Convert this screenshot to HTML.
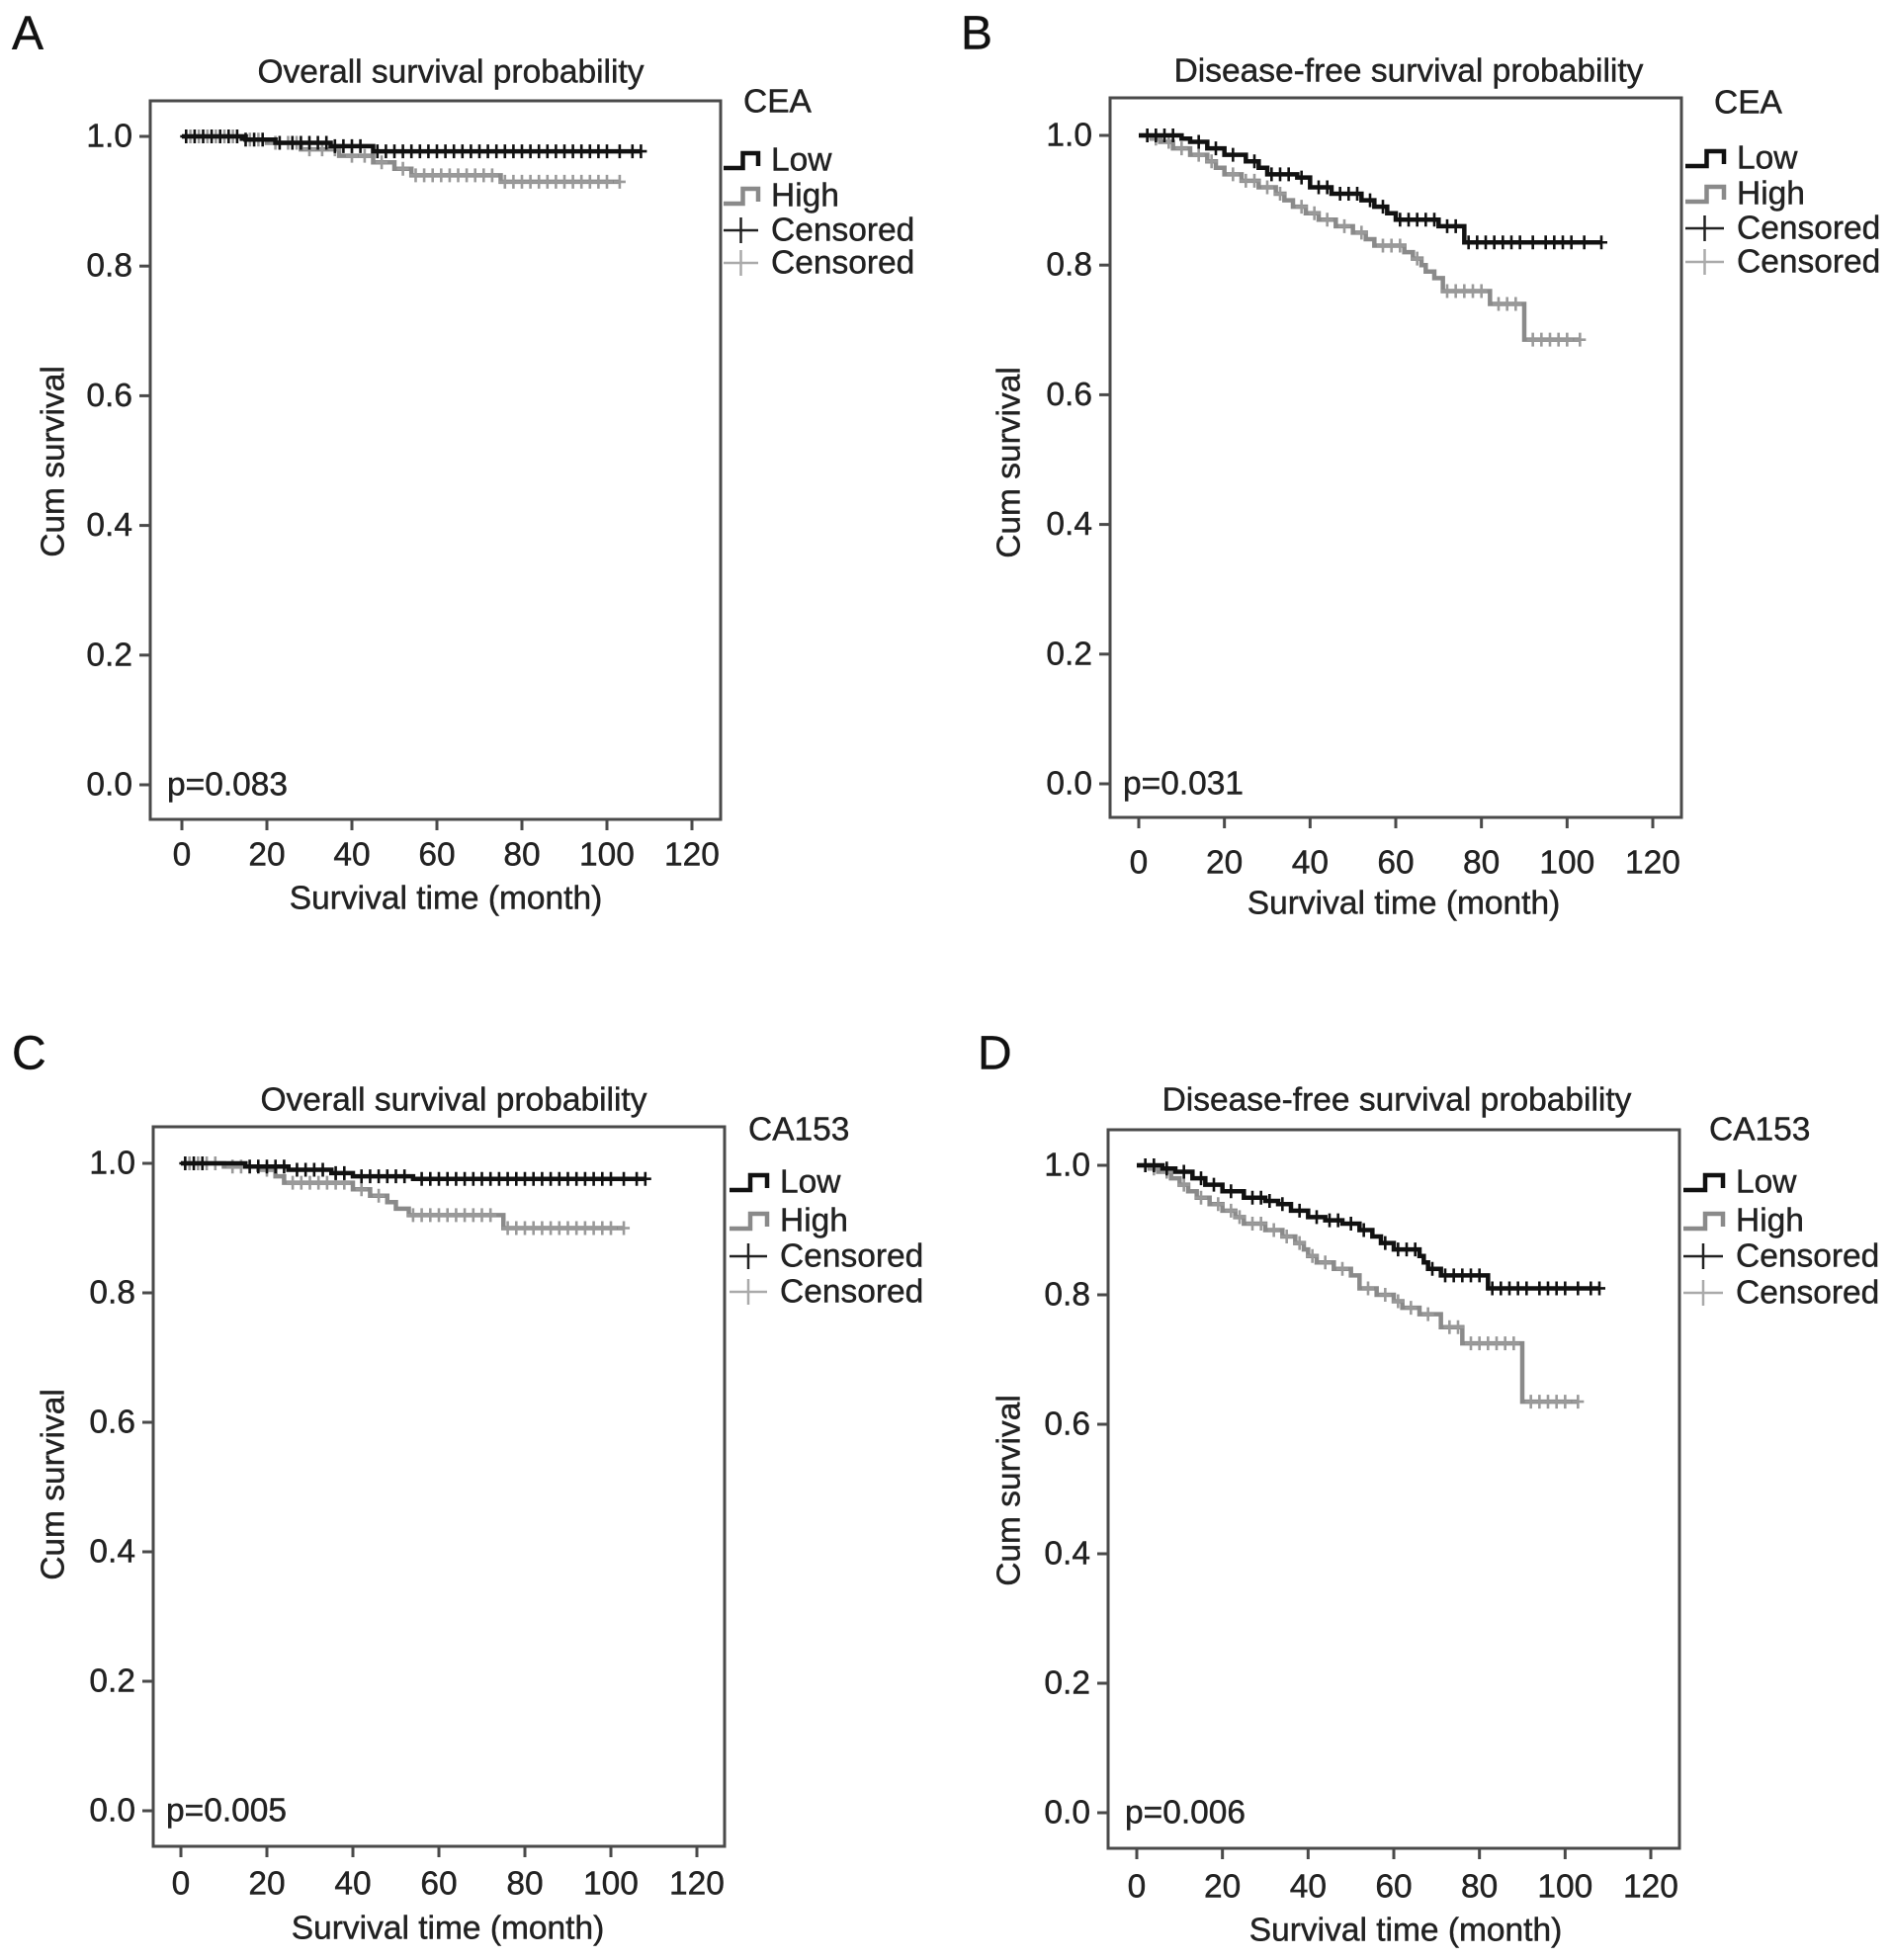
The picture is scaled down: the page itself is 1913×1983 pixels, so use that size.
<!DOCTYPE html>
<html><head><meta charset="utf-8"><style>
html,body{margin:0;padding:0;background:#fff}
svg{display:block;font-family:"Liberation Sans",Arial,sans-serif}
svg text{stroke:#222;stroke-width:0.45px}
</style></head><body>
<svg id="fig" width="1913" height="1983" viewBox="0 0 1913 1983" xmlns="http://www.w3.org/2000/svg"></svg>
<script>
// ---- data (months, survival) ----
const xTicks = [0,20,40,60,80,100,120];
const yTicks = [0.0,0.2,0.4,0.6,0.8,1.0];
const yTickLabels = ["0.0","0.2","0.4","0.6","0.8","1.0"];
const xTickLabels = ["0","20","40","60","80","100","120"];

const aLowT = [0,15,22,35,45];
const aLowS = [1,0.995,0.99,0.985,0.977];
const aLowEnd = 108;
const aLowCens = [1,3,5,7,9,11,13,15,17,19,23,26,28,30,32,34,36,38,40,42,46,48,50,52,54,56,58,60,62,64,66,68,70,72,74,76,78,80,82,84,86,88,90,92,94,96,98,100,103,106,108];
const aHighT = [0,15,20,28,37,45,50,54,75];
const aHighS = [1,0.995,0.99,0.98,0.97,0.96,0.95,0.94,0.93];
const aHighEnd = 103;
const aHighCens = [2,4,6,8,10,12,16,18,22,25,27,30,33,36,40,43,47,52,55,57,59,61,63,65,67,69,71,73,76,78,80,82,84,86,88,90,92,94,96,98,100,103];

const bLowT = [0,10,12,16,20,25,28,30,37,40,45,52,55,58,60,70,76];
const bLowS = [1,0.995,0.99,0.98,0.97,0.96,0.95,0.94,0.935,0.92,0.91,0.90,0.89,0.88,0.87,0.86,0.835];
const bLowEnd = 108;
const bLowCens = [2,4,6,8,14,18,22,27,31,33,35,38,42,44,47,49,51,54,57,61,63,65,67,69,72,74,77,79,81,83,85,87,89,92,95,97,99,101,104,108];
const bHighT = [0,3,5,8,12,16,18,20,24,28,32,34,36,39,42,46,50,53,55,62,64,66,67,69,71,82,90];
const bHighS = [1,0.995,0.99,0.98,0.97,0.96,0.95,0.94,0.93,0.92,0.91,0.90,0.89,0.88,0.87,0.86,0.85,0.84,0.83,0.82,0.81,0.80,0.79,0.78,0.76,0.74,0.685];
const bHighEnd = 103;
const bHighCens = [2,4,7,10,14,17,22,25,27,30,33,38,41,44,48,52,57,59,61,65,72,74,76,78,80,84,86,88,92,94,96,98,100,103];

const cLowT = [0,15,25,35,40,54];
const cLowS = [1,0.995,0.99,0.985,0.98,0.976];
const cLowEnd = 108;
const cLowCens = [1,3,5,16,18,20,22,24,27,29,31,33,36,38,42,44,46,48,50,52,56,58,60,62,64,66,68,70,72,74,76,78,80,82,84,86,88,90,92,94,96,98,100,103,106,108];
const cHighT = [0,10,18,22,24,40,44,48,50,53,75];
const cHighS = [1,0.995,0.99,0.98,0.97,0.96,0.95,0.94,0.93,0.92,0.90];
const cHighEnd = 103;
const cHighCens = [2,4,6,8,12,14,20,26,28,30,32,34,36,38,42,46,54,56,58,60,62,64,66,68,70,72,76,78,80,82,84,86,88,90,92,94,96,98,100,103];

const dLowT = [0,6,9,13,16,20,25,30,33,36,40,44,48,52,55,57,60,66,67,68,71,82];
const dLowS = [1,0.995,0.99,0.98,0.97,0.96,0.95,0.945,0.94,0.93,0.92,0.915,0.91,0.90,0.89,0.88,0.87,0.86,0.85,0.84,0.83,0.81];
const dLowEnd = 108;
const dLowCens = [2,4,7,11,15,18,22,27,29,31,34,38,42,45,47,50,53,58,61,63,65,69,72,74,76,78,80,83,85,87,89,91,94,96,98,100,103,106,108];
const dHighT = [0,3,5,8,10,12,14,17,20,23,25,30,34,37,39,40,42,46,50,52,56,60,62,66,71,76,90];
const dHighS = [1,0.995,0.99,0.98,0.97,0.96,0.95,0.94,0.93,0.92,0.91,0.90,0.89,0.88,0.87,0.86,0.85,0.84,0.83,0.81,0.80,0.79,0.78,0.77,0.75,0.725,0.635];
const dHighEnd = 103;
const dHighCens = [2,4,7,11,15,19,22,24,27,29,32,35,38,41,44,48,54,58,61,64,68,73,75,78,80,82,84,86,88,92,94,96,98,100,103];

// ---- layout ----
const panels = [
 {id:'a',letter:'A',lx:12,ly:34,title:'Overall survival probability',group:'CEA',p:'p=0.083',
  box:[152,102,729,829],y1:138,y0:794,x0:184,x120:700,titleX:456,titleY:73,gX:752,gY:103,
  legSym:732,legText:780,rows:[162,198,233,266],yTitleX:54,yTitleY:467,xLabY:865,xTitleY:909,xTitleX:451,pX:169,
  low:[aLowT,aLowS,aLowEnd,aLowCens],high:[aHighT,aHighS,aHighEnd,aHighCens]},
 {id:'b',letter:'B',lx:972,ly:34,title:'Disease-free survival probability',group:'CEA',p:'p=0.031',
  box:[1123,99,1701,827],y1:137,y0:793,x0:1152,x120:1672,titleX:1425,titleY:72,gX:1734,gY:104,
  legSym:1705,legText:1757,rows:[160,196,231,265],yTitleX:1021,yTitleY:468,xLabY:873,xTitleY:914,xTitleX:1420,pX:1136,
  low:[bLowT,bLowS,bLowEnd,bLowCens],high:[bHighT,bHighS,bHighEnd,bHighCens]},
 {id:'c',letter:'C',lx:12,ly:1066,title:'Overall survival probability',group:'CA153',p:'p=0.005',
  box:[155,1140,733,1868],y1:1177,y0:1832,x0:183,x120:705,titleX:459,titleY:1113,gX:757,gY:1143,
  legSym:738,legText:789,rows:[1196,1235,1271,1307],yTitleX:54,yTitleY:1502,xLabY:1906,xTitleY:1951,xTitleX:453,pX:168,
  low:[cLowT,cLowS,cLowEnd,cLowCens],high:[cHighT,cHighS,cHighEnd,cHighCens]},
 {id:'d',letter:'D',lx:989,ly:1066,title:'Disease-free survival probability',group:'CA153',p:'p=0.006',
  box:[1121,1143,1699,1870],y1:1179,y0:1834,x0:1150,x120:1670,titleX:1413,titleY:1113,gX:1729,gY:1143,
  legSym:1703,legText:1756,rows:[1196,1235,1271,1308],yTitleX:1021,yTitleY:1508,xLabY:1909,xTitleY:1953,xTitleX:1422,pX:1138,
  low:[dLowT,dLowS,dLowEnd,dLowCens],high:[dHighT,dHighS,dHighEnd,dHighCens]}
];

const FS=33.5;
const NS='http://www.w3.org/2000/svg';
const svg=document.getElementById('fig');
function mk(tag,attrs,parent,text){
  const e=document.createElementNS(NS,tag);
  for(const k in attrs) e.setAttribute(k,attrs[k]);
  if(text!==undefined) e.textContent=text;
  parent.appendChild(e); return e;
}
function survAt(T,S,t){let v=S[0];for(let i=0;i<T.length;i++){if(T[i]<=t)v=S[i];}return v;}

panels.forEach(P=>{
  const g=mk('g',{},svg);
  
  
  const X=t=>P.x0+(P.x120-P.x0)*t/120;
  const Y=s=>P.y0+(P.y1-P.y0)*s;
  const [bl,bt,br,bb]=P.box;

  const lt=mk('text',{x:P.lx,y:P.ly,'font-size':48,'dominant-baseline':'central',fill:'#111'},g,P.letter);
  
  
  const tt=mk('text',{x:P.titleX,y:P.titleY,'font-size':FS,'text-anchor':'middle','dominant-baseline':'central',fill:'#222'},g,P.title);
  
  
  const box=mk('rect',{x:bl,y:bt,width:br-bl,height:bb-bt,fill:'none',stroke:'#4a4a4a','stroke-width':3},g);
  
  

  yTicks.forEach((v,i)=>{
    const y=Y(v);
    const tk=mk('line',{x1:bl-11,x2:bl,y1:y,y2:y,stroke:'#4a4a4a','stroke-width':3},g);
    
    
    const tl=mk('text',{x:bl-18,y:y,'font-size':FS,'text-anchor':'end','dominant-baseline':'central',fill:'#222'},g,yTickLabels[i]);
    
    
  });
  xTicks.forEach((v,i)=>{
    const x=X(v);
    const tk=mk('line',{x1:x,x2:x,y1:bb,y2:bb+11,stroke:'#4a4a4a','stroke-width':3},g);
    
    
    const tl=mk('text',{x:x,y:P.xLabY,'font-size':FS,'text-anchor':'middle','dominant-baseline':'central',fill:'#222'},g,xTickLabels[i]);
    
    
  });
  const xt=mk('text',{x:P.xTitleX,y:P.xTitleY,'font-size':FS,'text-anchor':'middle','dominant-baseline':'central',fill:'#222'},g,'Survival time (month)');
  
  
  const yt=mk('text',{x:P.yTitleX,y:P.yTitleY,'font-size':FS,'text-anchor':'middle','dominant-baseline':'central',fill:'#222',transform:`rotate(-90 ${P.yTitleX} ${P.yTitleY})`},g,'Cum survival');
  
  
  const pv=mk('text',{x:P.pX,y:P.y0,'font-size':FS,'dominant-baseline':'central',fill:'#222'},g,P.p);
  
  

  [['high',P.high,'#8a8a8a','#9a9a9a'],['low',P.low,'#111','#111']].forEach(([nm,ser,col,ccol])=>{
    const [T,S,end,C]=ser;
    let d=`M${X(T[0])},${Y(S[0])}`;
    for(let i=1;i<T.length;i++){d+=` H${X(T[i])} V${Y(S[i])}`;}
    d+=` H${X(end)}`;
    const pth=mk('path',{d:d,fill:'none',stroke:col,'stroke-width':4.5},g);
    
    
    C.forEach(t=>{
      const x=X(t),y=Y(survAt(T,S,t));
      const cm=mk('path',{d:`M${x-6},${y}H${x+6}M${x},${y-7}V${y+7}`,stroke:ccol,'stroke-width':2.6},g);
      
      
    });
  });

  const gt=mk('text',{x:P.gX,y:P.gY,'font-size':FS,'dominant-baseline':'central',fill:'#222'},g,P.group);
  
  
  const s0=P.legSym, s1=P.legText-13;
  const legend=[['Low','#111','step'],['High','#8a8a8a','step'],['Censored','#222','plus'],['Censored','#aaa','plus']];
  legend.forEach((L,i)=>{
    const y=P.rows[i];
    let sym;
    if(L[2]==='step'){
      const m=(s0+s1)/2+2;
      sym=mk('path',{d:`M${s0},${y+8}H${m}V${y-7}H${s1}V${y+6}`,fill:'none',stroke:L[1],'stroke-width':4.5},g);
    } else {
      const m=(s0+s1)/2;
      sym=mk('path',{d:`M${s0},${y}H${s1}M${m},${y-13}V${y+13}`,stroke:L[1],'stroke-width':2.5},g);
    }
    
    
    const lt2=mk('text',{x:P.legText,y:y,'font-size':FS,'dominant-baseline':'central',fill:'#222'},g,L[0]);
    
    
  });
});
</script>
</body></html>
